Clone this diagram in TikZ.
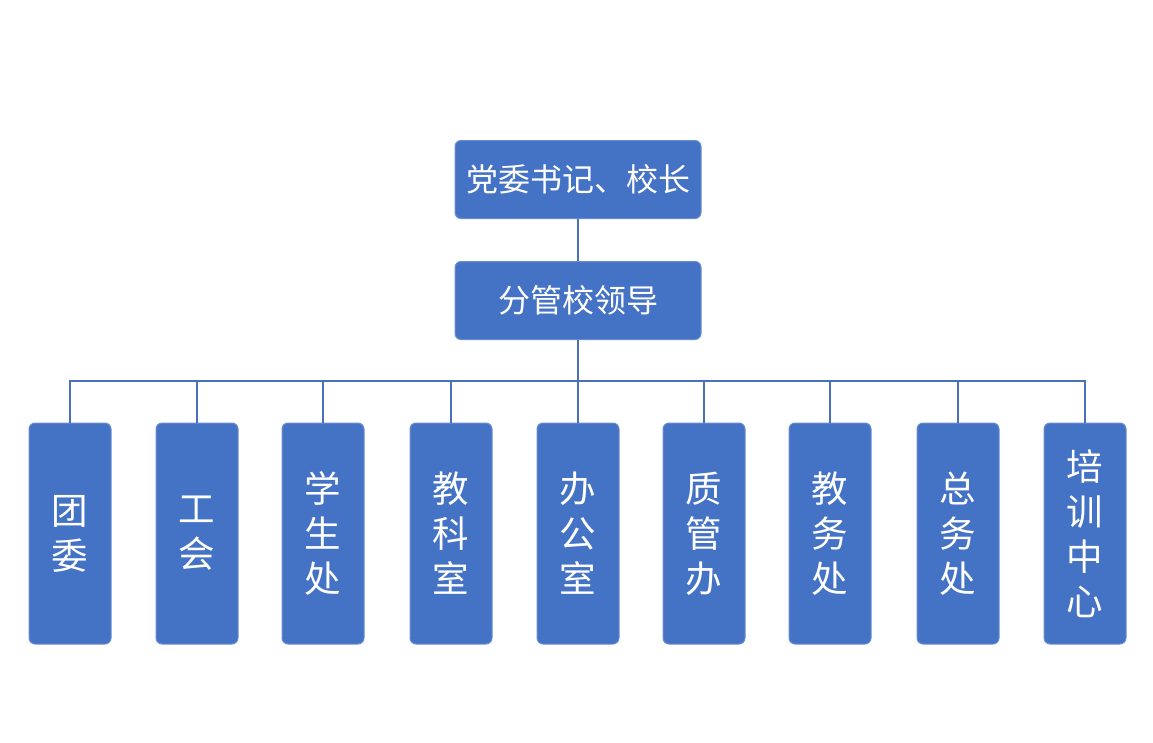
\documentclass[tikz,border=0pt]{standalone}
\usepackage{fontspec}
\newfontfamily\cjk{Noto Sans CJK SC}
\definecolor{boxblue}{HTML}{4472C4}
\definecolor{lineblue}{HTML}{4A70B8}
\begin{document}
\begin{tikzpicture}[x=1pt,y=-1pt,
  topbox/.style={draw=boxblue!80!white, line width=1pt, fill=boxblue, rounded corners=6pt, minimum width=246pt, minimum height=78pt, inner sep=0pt, text=white, font=\cjk\fontsize{32}{38}\selectfont},
  deptbox/.style={draw=boxblue!80!white, line width=1pt, fill=boxblue, rounded corners=6pt, minimum width=82pt, minimum height=221pt, inner sep=0pt, text=white, align=center, font=\cjk\fontsize{36.5}{45}\selectfont},
  conn/.style={draw=lineblue, line width=1.6pt}]
\useasboundingbox (0,0) rectangle (1153,742);
\node[topbox] (top) at (578,179.5) {党委书记、校长};
\node[topbox] (mgr) at (578,300.5) {分管校领导};
\node[deptbox] (d1) at (70,533.5) {团\\委};
\node[deptbox] (d2) at (197,533.5) {工\\会};
\node[deptbox] (d3) at (323,533.5) {学\\生\\处};
\node[deptbox] (d4) at (451,533.5) {教\\科\\室};
\node[deptbox] (d5) at (578,533.5) {办\\公\\室};
\node[deptbox] (d6) at (704,533.5) {质\\管\\办};
\node[deptbox] (d7) at (830,533.5) {教\\务\\处};
\node[deptbox] (d8) at (958,533.5) {总\\务\\处};
\node[deptbox] (d9) at (1085,533.5) {培\\训\\中\\心};
\draw[conn] (top) -- (mgr);
\coordinate (bus) at (578,381);
\draw[conn] (mgr.south) -- (bus);
\foreach \d in {d1,d2,d3,d4,d5,d6,d7,d8,d9}{
  \draw[conn] (bus) -| (\d.north);
}
\end{tikzpicture}
\end{document}
